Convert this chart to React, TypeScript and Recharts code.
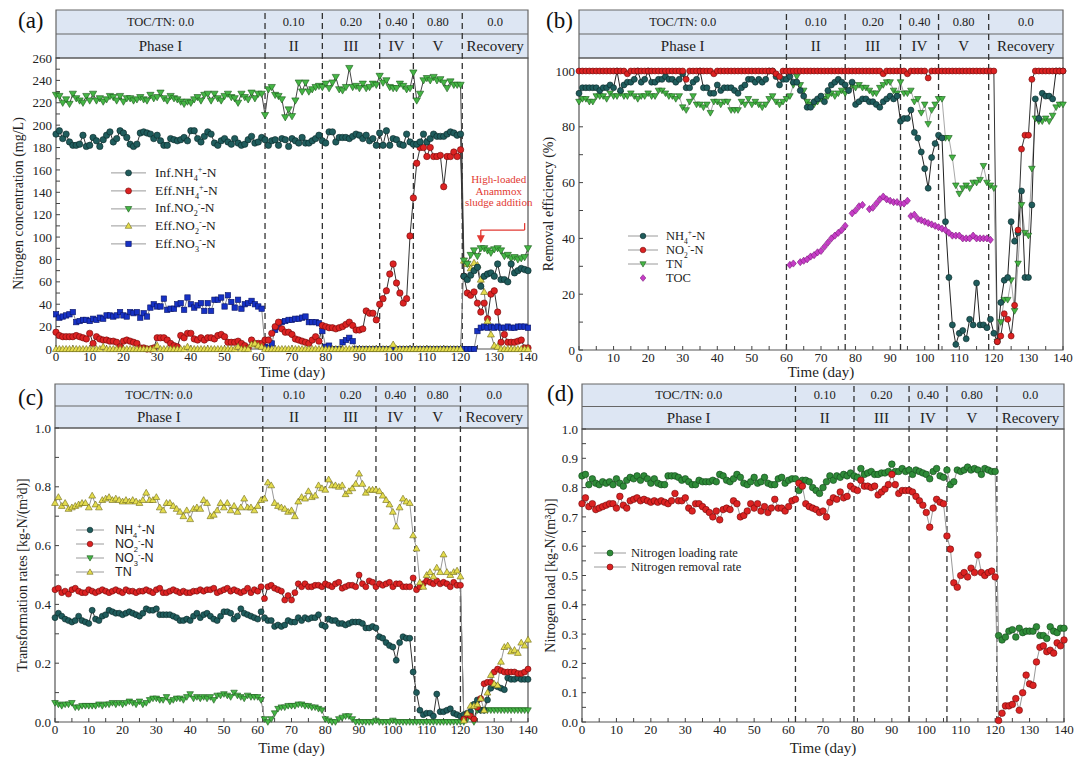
import React from "react";
import {
  ComposedChart,
  Line,
  XAxis,
  YAxis,
  ReferenceArea,
  ReferenceLine,
  ReferenceDot,
  Legend,
} from "recharts";

// ---------- data (one value per day, 0..140) ----------
const days = Array.from({ length: 141 }, (_, i) => i);
const xTicks = [0, 5, 10, 15, 20, 25, 30, 35, 40, 45, 50, 55, 60, 65, 70, 75, 80, 85, 90, 95, 100, 105, 110, 115, 120, 125, 130, 135, 140];

const tocLabels = ["TOC/TN: 0.0", "0.10", "0.20", "0.40", "0.80", "0.0"];
const phaseLabels = ["Phase I", "II", "III", "IV", "V", "Recovery"];

// phase boundaries (day) as drawn in each panel
const boundsA = [62, 79, 96, 106, 120.5];
const boundsB = [60, 77, 93, 104, 118.5];
const boundsC = [61.5, 80, 95, 106.5, 120];
const boundsD = [62, 79, 95, 106, 120.5];

// (a) nitrogen concentration, mg/L
const infNH4 = [
  192, 195, 188, 192, 185, 182, 182, 183, 191, 181,
  182, 189, 186, 181, 187, 191, 194, 185, 188, 195,
  193, 189, 183, 181, 183, 193, 194, 193, 192, 188,
  191, 186, 182, 182, 188, 187, 186, 187, 189, 186,
  195, 195, 188, 185, 190, 194, 192, 184, 182, 186,
  188, 185, 183, 188, 184, 182, 183, 187, 190, 184,
  185, 189, 187, 182, 186, 187, 182, 188, 187, 181,
  188, 186, 184, 189, 184, 184, 186, 188, 191, 186,
  184, 194, 194, 185, 189, 189, 189, 188, 190, 192,
  191, 188, 191, 186, 188, 182, 193, 182, 195, 182,
  188, 187, 183, 182, 192, 185, 183, 183, 185, 192,
  185, 188, 192, 190, 190, 190, 192, 194, 193, 191,
  192,
  65, 62, 66, 70, 73, 56, 65, 67, 68, 65,
  76, 62, 62, 60, 76, 68, 70, 72, 71, 70,
];
const effNH4 = [
  15, 12, 11, 11, 11, 11, 12, 11, 10, 9,
  14, 5, 11, 9, 8, 8, 7, 7, 6, 2,
  7, 8, 7, 6, 5, 1, 1, 0, 0, 1,
  10, 10, 10, 8, 5, 3, 2, 12, 10, 14,
  14, 9, 8, 10, 8, 10, 10, 9, 12, 13,
  11, 6, 6, 6, 7, 5, 3, 1, 8, 5,
  5, 5, 8, 8, 14, 20, 24, 18, 15, 15,
  13, 9, 8, 7, 6, 5, 8, 11, 7, 21,
  20, 19, 19, 18, 19, 20, 22, 24, 21, 17,
  17, 18, 34, 32, 32, 26, 40, 45, 52, 67,
  76, 59, 50, 41, 45, 101, 135, 166, 180, 180,
  172, 180, 172, 172, 173, 145, 172, 172, 176, 172,
  178,
  65, 50, 48, 51, 41, 33, 41, 27, 49, 52,
  33, 6, 13, 6, 6, 6, 7, 8, 1, 1,
];
const infNO2 = [
  227, 226, 220, 223, 219, 228, 224, 222, 220, 226,
  222, 228, 222, 224, 221, 223, 226, 225, 222, 226,
  221, 224, 224, 222, 223, 225, 223, 222, 227, 224,
  225, 229, 224, 222, 226, 224, 223, 221, 219, 221,
  220, 223, 225, 222, 227, 228, 222, 228, 224, 222,
  226, 228, 225, 224, 220, 228, 225, 223, 229, 224,
  228, 228, 209, 232, 234, 227, 226, 223, 207, 214,
  208, 222, 238, 230, 238, 230, 232, 234, 235, 234,
  237, 233, 238, 243, 232, 231, 234, 251, 234, 235,
  233, 237, 233, 234, 237, 236, 244, 238, 240, 234,
  233, 233, 237, 235, 232, 233, 247, 222, 228, 240,
  242, 240, 243, 240, 241, 238, 233, 239, 236, 236,
  236,
  79, 76, 84, 88, 83, 90, 90, 88, 86, 89,
  90, 88, 83, 84, 81, 82, 80, 81, 82, 90,
];
const effNO2 = [
  0, 0, 0, 0, 0, 0, 0, 0, 0, 0,
  0, 0, 0, 0, 2, 0, 0, 0, 0, 0,
  0, 0, 0, 0, 0, 0, 0, 0, 0, 0,
  3, 0, 0, 0, 0, 0, 0, 0, 0, 2,
  0, 0, 0, 0, 0, 0, 0, 0, 0, 0,
  0, 0, 0, 0, 2, 0, 0, 0, 4, 5,
  3, 2, 0, 0, 0, 0, 0, 0, 0, 0,
  0, 0, 0, 0, 0, 0, 0, 0, 0, 0,
  0, 0, 0, 0, 0, 0, 0, 0, 0, 0,
  0, 0, 0, 0, 0, 0, 0, 0, 0, 0,
  4, 0, 0, 0, 0, 0, 0, 0, 0, 0,
  0, 0, 0, 0, 0, 0, 0, 0, 0, 0,
  0,
  79, 76, 72, 77, 75, 62, 51, 25, 13, 3,
  2, 0, 0, 0, 0, 0, 0, 0, 0, 0,
];
const effNO3 = [
  31, 28, 29, 30, 31, 33, 24, 25, 26, 26,
  25, 27, 26, 28, 27, 30, 30, 29, 30, 33,
  30, 29, 33, 32, 33, 28, 32, 29, 37, 40,
  38, 38, 45, 35, 36, 36, 40, 41, 35, 46,
  40, 37, 39, 41, 34, 41, 34, 44, 44, 46,
  38, 48, 42, 37, 44, 36, 40, 41, 43, 40,
  38, 36, 2, 1, 5, 17, 20, 24, 25, 26,
  26, 27, 27, 28, 29, 24, 24, 24, 23, 16,
  2, 3, 0, 0, 0, 6, 8, 10, 7, 0,
  0, 0, 0, 0, 0, 0, 0, 0, 0, 0,
  0, 0, 0, 0, 0, 0, 0, 0, 0, 0,
  0, 0, 0, 0, 0, 0, 0, 0, 0, 0,
  0,
  0, 0, 0, 0, 16, 19, 20, 19, 20, 19,
  20, 19, 19, 20, 19, 19, 20, 20, 20, 19,
];

// (b) removal efficiency, %
const effNH4rm = [
  92, 94, 94, 94, 94, 94, 93, 94, 94, 95,
  94, 100, 93, 95, 96, 96, 97, 100, 96, 97,
  100, 96, 96, 97, 97, 98, 97, 97, 96, 97,
  99, 94, 94, 96, 97, 100, 94, 94, 92, 92,
  95, 93, 94, 94, 94, 93, 92, 94, 95, 97,
  97, 96, 97, 96, 97, 100, 100, 98, 95, 97,
  97, 98, 96, 96, 93, 91, 87, 87, 89, 90,
  91, 89, 93, 95, 96, 97, 96, 95, 93, 96,
  88, 89, 90, 90, 89, 89, 88, 87, 89, 90,
  91, 90, 91, 82, 83, 83, 86, 78, 76, 71,
  65, 58, 69, 74, 77, 76, 46, 26, 9, 2,
  6, 7, 4, 11, 9, 24, 9, 9, 8, 11,
  6,
  3, 17, 25, 26, 46, 39, 42, 57, 26, 26,
  52, 90, 83, 92, 91, 91, 90, 100, 100, 100,
];
const effNO2rm = [
  100, 100, 100, 100, 100, 100, 100, 100, 100, 100,
  100, 100, 100, 100, 99, 100, 100, 100, 100, 100,
  100, 100, 100, 100, 100, 100, 100, 100, 100, 100,
  100, 97, 100, 100, 100, 100, 100, 100, 100, 99,
  100, 100, 100, 100, 100, 100, 100, 100, 100, 100,
  100, 100, 100, 100, 100, 100, 100, 99, 98, 100,
  100, 100, 100, 100, 100, 100, 100, 100, 100, 100,
  100, 100, 100, 100, 100, 100, 100, 100, 100, 100,
  100, 100, 100, 100, 100, 100, 100, 100, 99, 100,
  100, 100, 100, 100, 100, 99, 100, 100, 100, 100,
  100, 97.5, 100, 100, 100, 100, 100, 100, 100, 100,
  100, 100, 100, 100, 100, 100, 100, 100, 100, 100,
  100,
  3, 5, 13, 11, 5, 16, 43, 72, 77, 77,
  97, 100, 100, 100, 100, 100, 100, 100, 100, 100,
];
const effTNrm = [
  89, 90, 90, 89, 89, 91, 91, 91, 90, 92,
  91, 91, 92, 91, 91, 92, 91, 90, 91, 91,
  92, 91, 91, 93, 93, 92, 91, 91, 90, 91,
  87, 86, 89, 91, 88, 88, 87, 88, 85, 89,
  89, 88, 89, 89, 86, 86, 86, 89, 88, 90,
  88, 89, 88, 87, 88, 90, 91, 89, 88, 89,
  90, 91, 95, 98, 95, 93, 89, 88, 88, 89,
  90, 90, 91, 92, 91, 92, 93, 92, 93, 95,
  94, 95, 94, 94, 93, 92, 92, 94, 95, 96,
  96, 93, 92, 96, 92, 92, 93, 89, 90, 85,
  88, 81, 86, 88, 90, 90, 76, 76, 69, 59,
  56, 58, 59, 58, 60, 60, 61, 66, 60, 59,
  58,
  3, 10, 18, 18, 25, 14, 31, 52, 42, 41,
  65, 83, 82, 82, 83, 82, 84, 87, 88, 88,
];
const effTOCrm = [
  null, null, null, null, null, null, null, null, null, null,
  null, null, null, null, null, null, null, null, null, null,
  null, null, null, null, null, null, null, null, null, null,
  null, null, null, null, null, null, null, null, null, null,
  null, null, null, null, null, null, null, null, null, null,
  null, null, null, null, null, null, null, null, null, null,
  null, 30.5, 31, null, 31.5, 32, 32.5, 33.5, 34, 35,
  35.5, 37, 38.5, 40, 41, 42, 43, 44.5, null, 49,
  50, 51.5, 52, null, 50.5, 51, 52.5, 54, 55, 54,
  53.5, 53, 53, 52.5, 52.5, 53.5, 48, 48.5, 47, 46.5,
  46, 45.5, 45, 44.5, 44, 43.5, 43, 42, 41, 41,
  41, 40, 40, 40, 41, 40, 40, 40, 40, 39.5,
  null,
  null, null, null, null, null, null, null, null, null, null,
  null, null, null, null, null, null, null, null, null, null,
];

// (c) transformation rates, kg-N/(m3 d)
const rateNH4 = [
  0.355, 0.37, 0.36, 0.35, 0.345, 0.34, 0.345, 0.36, 0.345, 0.34,
  0.335, 0.38, 0.35, 0.345, 0.36, 0.365, 0.38, 0.375, 0.37, 0.37,
  0.365, 0.37, 0.375, 0.37, 0.365, 0.36, 0.37, 0.385, 0.38, 0.38,
  0.385, 0.365, 0.365, 0.365, 0.365, 0.36, 0.355, 0.345, 0.345, 0.35,
  0.345, 0.36, 0.37, 0.355, 0.365, 0.37, 0.36, 0.35, 0.345, 0.36,
  0.375, 0.375, 0.37, 0.35, 0.36, 0.385, 0.37, 0.365, 0.36, 0.355,
  0.35, 0.375, 0.355, 0.345, 0.345, 0.325, 0.33, 0.325, 0.33, 0.345,
  0.34, 0.34, 0.355, 0.345, 0.355, 0.35, 0.355, 0.355, 0.365, 0.33,
  0.325, 0.35, 0.345, 0.345, 0.335, 0.335, 0.33, 0.335, 0.34, 0.34,
  0.34, 0.335, 0.32, 0.32, 0.325, 0.32, 0.29, 0.285, 0.27, 0.26,
  0.255, 0.21, 0.27, 0.29, 0.285, 0.285, 0.17, 0.1, 0.04, 0.025,
  0.03, 0.03, 0.02, 0.095, 0.035, 0.035, 0.04, 0.045, 0.03, 0.025,
  0.02,
  0.025, 0.03, 0.035, 0.06, 0.075, 0.04, 0.04, 0.075, 0.115, 0.125,
  0.12, 0.115, 0.11, 0.15, 0.145, 0.145, 0.15, 0.145, 0.145, 0.145,
];
const rateNO2 = [
  0.45, 0.455, 0.44, 0.445, 0.435, 0.45, 0.455, 0.445, 0.44, 0.44,
  0.45, 0.445, 0.44, 0.445, 0.45, 0.445, 0.44, 0.445, 0.45, 0.445,
  0.44, 0.45, 0.445, 0.445, 0.44, 0.445, 0.445, 0.45, 0.445, 0.44,
  0.45, 0.455, 0.44, 0.44, 0.445, 0.45, 0.445, 0.44, 0.445, 0.44,
  0.44, 0.445, 0.445, 0.45, 0.445, 0.45, 0.45, 0.455, 0.44, 0.445,
  0.45, 0.455, 0.445, 0.45, 0.445, 0.44, 0.445, 0.455, 0.44, 0.45,
  0.445, 0.46, 0.42, 0.46, 0.465, 0.455, 0.45, 0.445, 0.415, 0.43,
  0.415, 0.44, 0.47, 0.46, 0.47, 0.46, 0.46, 0.465, 0.465, 0.46,
  0.47, 0.465, 0.46, 0.47, 0.475, 0.455, 0.46, 0.465, 0.465, 0.46,
  0.5, 0.47, 0.46, 0.48, 0.475, 0.46, 0.47, 0.465, 0.47, 0.475,
  0.46, 0.47, 0.47, 0.46, 0.46, 0.46, 0.49, 0.45, 0.46, 0.47,
  0.48, 0.475, 0.47, 0.48, 0.47, 0.475, 0.47, 0.46, 0.475, 0.465,
  0.465,
  0.01, 0.025, 0.02, 0.01, 0.05, 0.08, 0.13, 0.135, 0.135, 0.17,
  0.18, 0.175, 0.17, 0.17, 0.17, 0.17, 0.165, 0.165, 0.17, 0.18,
];
const rateNO3 = [
  0.065, 0.06, 0.055, 0.06, 0.06, 0.065, 0.05, 0.05, 0.055, 0.055,
  0.055, 0.055, 0.055, 0.06, 0.055, 0.06, 0.06, 0.065, 0.06, 0.065,
  0.06, 0.065, 0.07, 0.065, 0.06, 0.07, 0.06, 0.065, 0.075, 0.08,
  0.08, 0.075, 0.075, 0.085, 0.07, 0.075, 0.08, 0.08, 0.075, 0.085,
  0.095, 0.08, 0.085, 0.08, 0.085, 0.08, 0.085, 0.075, 0.09, 0.09,
  0.095, 0.09, 0.085, 0.1, 0.09, 0.085, 0.08, 0.09, 0.085, 0.085,
  0.085, 0.075, 0.01, 0, 0.01, 0.03, 0.045, 0.05, 0.05, 0.055,
  0.055, 0.055, 0.06, 0.06, 0.055, 0.055, 0.05, 0.05, 0.045, 0.04,
  0.01, 0.005, 0, 0, 0.01, 0.015, 0.02, 0.02, 0.01, 0,
  0, 0, 0, 0, 0, 0.005, 0, 0, 0, 0,
  0.005, 0, 0, 0, 0, 0, 0, 0, 0, 0,
  0, 0, 0, 0, 0, 0, 0, 0, 0, 0,
  0,
  0, 0.01, 0.02, 0, 0.04, 0.04, 0.04, 0.04, 0.04, 0.04,
  0.04, 0.04, 0.04, 0.04, 0.04, 0.04, 0.04, 0.04, 0.04, 0.04,
];
// TN transformation rate = nitrogen removal rate, shared by (c) and (d)
const rateTN = [
  0.745, 0.765, 0.735, 0.745, 0.725, 0.73, 0.735, 0.74, 0.745, 0.745,
  0.73, 0.77, 0.74, 0.73, 0.755, 0.76, 0.765, 0.755, 0.76, 0.755,
  0.75, 0.755, 0.75, 0.755, 0.75, 0.745, 0.755, 0.78, 0.755, 0.755,
  0.765, 0.73, 0.72, 0.745, 0.745, 0.735, 0.725, 0.715, 0.7, 0.72,
  0.69, 0.725, 0.73, 0.725, 0.755, 0.745, 0.7, 0.705, 0.72, 0.745,
  0.73, 0.745, 0.72, 0.735, 0.715, 0.73, 0.76, 0.73, 0.73, 0.72,
  0.735, 0.755, 0.76, 0.815, 0.805, 0.745, 0.735, 0.73, 0.725, 0.715,
  0.72, 0.7, 0.75, 0.765, 0.76, 0.785, 0.765, 0.77, 0.805, 0.795,
  0.79, 0.825, 0.805, 0.805, 0.8, 0.805, 0.775, 0.785, 0.795, 0.81,
  0.845, 0.81, 0.78, 0.79, 0.79, 0.79, 0.785, 0.77, 0.755, 0.74,
  0.715, 0.665, 0.73, 0.76, 0.75, 0.745, 0.635, 0.59, 0.475, 0.46,
  0.5, 0.51, 0.495, 0.525, 0.51, 0.57, 0.51, 0.5, 0.51, 0.515,
  0.495,
  0.005, 0.03, 0.055, 0.055, 0.06, 0.08, 0.04, 0.1, 0.16, 0.13,
  0.125, 0.205, 0.255, 0.26, 0.24, 0.245, 0.235, 0.27, 0.26, 0.28,
];

// (d) nitrogen loading rate
const loadRate = [
  0.84, 0.845, 0.81, 0.83, 0.815, 0.81, 0.82, 0.815, 0.82, 0.81,
  0.83, 0.815, 0.805, 0.825, 0.835, 0.83, 0.84, 0.825, 0.84, 0.83,
  0.815, 0.83, 0.815, 0.81, 0.81, 0.84, 0.84, 0.84, 0.835, 0.825,
  0.83, 0.82, 0.81, 0.81, 0.825, 0.82, 0.82, 0.82, 0.825, 0.82,
  0.845, 0.84, 0.825, 0.82, 0.83, 0.845, 0.835, 0.815, 0.81, 0.82,
  0.835, 0.815, 0.82, 0.835, 0.815, 0.81, 0.81, 0.83, 0.835, 0.815,
  0.825, 0.83, 0.83, 0.79, 0.825, 0.825, 0.82, 0.8, 0.79, 0.78,
  0.8, 0.82, 0.84, 0.825, 0.84, 0.835, 0.845, 0.84, 0.85, 0.84,
  0.835, 0.865, 0.845, 0.85, 0.855, 0.845, 0.845, 0.85, 0.85, 0.855,
  0.88, 0.855, 0.855, 0.865, 0.855, 0.86, 0.845, 0.86, 0.855, 0.85,
  0.845, 0.83, 0.855, 0.865, 0.84, 0.835, 0.86, 0.81, 0.82, 0.86,
  0.855, 0.86, 0.87, 0.86, 0.865, 0.86, 0.845, 0.865, 0.86, 0.855,
  0.855,
  0.295, 0.28, 0.29, 0.31, 0.315, 0.29, 0.32, 0.305, 0.31, 0.31,
  0.31, 0.325, 0.295, 0.295, 0.285, 0.325, 0.31, 0.305, 0.32, 0.32,
];

const yTicksA = [0, 10, 20, 30, 40, 50, 60, 70, 80, 90, 100, 110, 120, 130, 140, 150, 160, 170, 180, 190, 200, 210, 220, 230, 240, 250, 260];
const yTicksB = [0, 10, 20, 30, 40, 50, 60, 70, 80, 90, 100];
const yTicksC = [0, 0.1, 0.2, 0.3, 0.4, 0.5, 0.6, 0.7, 0.8, 0.9, 1.0];
const yTicksD = [0, 0.05, 0.1, 0.15, 0.2, 0.25, 0.3, 0.35, 0.4, 0.45, 0.5, 0.55, 0.6, 0.65, 0.7, 0.75, 0.8, 0.85, 0.9, 0.95, 1.0];

// ---------- styling ----------
const SERIF = "'Liberation Serif', 'Times New Roman', serif";
const SANS = "'Liberation Sans', Arial, sans-serif";
const HEADER_FILL = "#dde6f3";
const ANNOT = "#e23a33";

const TEAL = { fill: "#1f5c5c", stroke: "#0a2626" };
const RED = { fill: "#dc2222", stroke: "#6e0a0a" };
const GREEN = { fill: "#45b545", stroke: "#1b5a1b" };
const YELLOW = { fill: "#e4dc4e", stroke: "#6f6a16" };
const BLUE = { fill: "#1631c4", stroke: "#0a1466" };
const MAGENTA = { fill: "#c63cc6", stroke: "#7a1a7a" };
const DGREEN = { fill: "#2e8b38", stroke: "#12471a" };

type Shape = "circle" | "down" | "up" | "square" | "diamond";

function Marker({ cx, cy, shape, fill, stroke, r }: any) {
  if (cx == null || cy == null || Number.isNaN(cx) || Number.isNaN(cy)) return null;
  const sw = 0.6;
  if (shape === "circle") return <circle cx={cx} cy={cy} r={r} fill={fill} stroke={stroke} strokeWidth={sw} />;
  if (shape === "square")
    return <rect x={cx - r * 0.9} y={cy - r * 0.9} width={r * 1.8} height={r * 1.8} fill={fill} stroke={stroke} strokeWidth={sw} />;
  let pts = "";
  if (shape === "down") pts = `${cx - r * 1.1},${cy - r * 0.8} ${cx + r * 1.1},${cy - r * 0.8} ${cx},${cy + r * 1.1}`;
  if (shape === "up") pts = `${cx - r * 1.1},${cy + r * 0.8} ${cx + r * 1.1},${cy + r * 0.8} ${cx},${cy - r * 1.1}`;
  if (shape === "diamond") pts = `${cx},${cy - r * 1.2} ${cx + r},${cy} ${cx},${cy + r * 1.2} ${cx - r},${cy}`;
  return <polygon points={pts} fill={fill} stroke={stroke} strokeWidth={sw} />;
}

interface Series {
  key: string;
  values: (number | null)[];
  shape: Shape;
  color: { fill: string; stroke: string };
  line: string;
  r: number;
}

interface LegendItem {
  label: React.ReactNode;
  shape: Shape;
  color: { fill: string; stroke: string };
  line: boolean;
}

interface PanelCfg {
  letter: string;
  left: number;
  top: number;
  width: number;
  height: number;
  marginTop: number;
  marginRight: number;
  yWidth: number;
  xHeight: number;
  plotPx: number;
  headerPx: number;
  ymax: number;
  yTicks: number[];
  yFmt: (v: number) => string;
  yTitle: string;
  yTitleX: number;
  xTitleOffset: number;
  bounds: number[];
  series: Series[];
  legend: { items: LegendItem[]; left: number; top: number; rowH: number; font: string; size: number; lineW: number; textX: number; r: number };
  extras?: React.ReactNode[];
}

const chem = (pre: string, sub: string, sup: string, post: string) => (
  <span>
    {pre}
    <sub style={{ fontSize: "0.6em", lineHeight: 0 }}>{sub}</sub>
    <sup style={{ fontSize: "0.6em", lineHeight: 0 }}>{sup}</sup>
    {post}
  </span>
);

const cellLabel = (text: string, size: number) => (p: any) => {
  const vb = p.viewBox;
  if (!vb) return null;
  return (
    <text x={vb.x + vb.width / 2} y={vb.y + vb.height / 2} textAnchor="middle" dominantBaseline="central" fontSize={size} fill="#222" fontFamily={SERIF}>
      {text}
    </text>
  );
};

function LegendBox({ cfg }: { cfg: PanelCfg["legend"] }) {
  return (
    <div style={{ fontFamily: cfg.font, fontSize: cfg.size, color: "#222" }}>
      {cfg.items.map((it, i) => (
        <div key={i} style={{ height: cfg.rowH, display: "flex", alignItems: "center", whiteSpace: "nowrap" }}>
          <svg width={cfg.textX} height={cfg.rowH} style={{ flex: "none" }}>
            {it.line && <line x1={0} x2={cfg.lineW} y1={cfg.rowH / 2} y2={cfg.rowH / 2} stroke="#9a9a9a" strokeWidth={1} />}
            <Marker cx={cfg.lineW / 2} cy={cfg.rowH / 2} shape={it.shape} fill={it.color.fill} stroke={it.color.stroke} r={cfg.r} />
          </svg>
          <span>{it.label}</span>
        </div>
      ))}
    </div>
  );
}

function Panel({ cfg }: { cfg: PanelCfg }) {
  const rows = days.map((d, i) => {
    const row: any = { day: d };
    cfg.series.forEach((s) => {
      row[s.key] = s.values[i];
    });
    return row;
  });
  const hdr = (cfg.ymax * cfg.headerPx) / cfg.plotPx;
  const hTop = cfg.ymax + hdr;
  const hMid = cfg.ymax + hdr / 2;
  const edges = [0, ...cfg.bounds, 140];

  return (
    <div style={{ position: "absolute", left: cfg.left, top: cfg.top }}>
      <ComposedChart width={cfg.width} height={cfg.height} data={rows} margin={{ top: cfg.marginTop, right: cfg.marginRight, bottom: 0, left: 0 }}>
        <XAxis
          dataKey="day"
          type="number"
          domain={[0, 140]}
          ticks={xTicks}
          interval={0}
          tickFormatter={(v: number) => (v % 10 === 0 ? String(v) : "")}
          tick={{ fill: "#222", fontSize: 13, fontFamily: SERIF }}
          tickSize={-4}
          tickMargin={7}
          tickLine={{ stroke: "#444" }}
          axisLine={false}
          height={cfg.xHeight}
          label={{ value: "Time (day)", position: "insideBottom", offset: cfg.xTitleOffset, fontSize: 15, fill: "#222", fontFamily: SERIF }}
        />
        <YAxis
          type="number"
          domain={[0, cfg.ymax]}
          ticks={cfg.yTicks}
          interval={0}
          tickFormatter={cfg.yFmt}
          tick={{ fill: "#222", fontSize: 13, fontFamily: SERIF }}
          tickSize={-4}
          tickMargin={8}
          tickLine={{ stroke: "#444" }}
          axisLine={false}
          width={cfg.yWidth}
          label={{ value: cfg.yTitle, angle: -90, position: "insideLeft", offset: cfg.yTitleX, fontSize: 14, fill: "#222", fontFamily: SERIF, style: { textAnchor: "middle" } }}
        />

        {/* header band: TOC/TN row and phase row */}
        {edges.slice(0, -1).map((x1, i) => (
          <ReferenceArea key={`toc${i}`} x1={x1} x2={edges[i + 1]} y1={hMid} y2={hTop} ifOverflow="visible" fill={HEADER_FILL} fillOpacity={1} stroke="none" label={cellLabel(tocLabels[i], 12.5)} />
        ))}
        {edges.slice(0, -1).map((x1, i) => (
          <ReferenceArea key={`ph${i}`} x1={x1} x2={edges[i + 1]} y1={cfg.ymax} y2={hMid} ifOverflow="visible" fill={HEADER_FILL} fillOpacity={1} stroke="none" label={cellLabel(phaseLabels[i], 15)} />
        ))}
        <ReferenceArea x1={0} x2={140} y1={cfg.ymax} y2={hTop} ifOverflow="visible" fill="none" stroke="#666" strokeWidth={1.2} />
        <ReferenceLine segment={[{ x: 0, y: hMid }, { x: 140, y: hMid }]} ifOverflow="visible" stroke="#666" strokeWidth={1.2} />
        <ReferenceArea x1={0} x2={140} y1={0} y2={cfg.ymax} ifOverflow="visible" fill="none" stroke="#555" strokeWidth={1.2} />
        {cfg.bounds.map((b) => (
          <ReferenceLine key={`b${b}`} segment={[{ x: b, y: 0 }, { x: b, y: hTop }]} ifOverflow="visible" stroke="#333" strokeWidth={1.3} strokeDasharray="6 4" />
        ))}

        {cfg.series.map((s) => (
          <Line
            key={s.key}
            dataKey={s.key}
            type="linear"
            stroke={s.line}
            strokeWidth={1}
            connectNulls={false}
            isAnimationActive={false}
            activeDot={false}
            legendType="none"
            dot={(p: any) => <Marker key={`${s.key}-${p.index}`} cx={p.cx} cy={p.cy} shape={s.shape} fill={s.color.fill} stroke={s.color.stroke} r={s.r} />}
          />
        ))}

        {cfg.extras}

        <Legend
          layout="vertical"
          align="center"
          verticalAlign="middle"
          wrapperStyle={{ left: cfg.legend.left, top: cfg.legend.top, width: "auto" }}
          content={() => <LegendBox cfg={cfg.legend} />}
        />
      </ComposedChart>
    </div>
  );
}

const fmt20 = (v: number) => (v % 20 === 0 ? String(v) : "");
const fmtC = (v: number) => (Math.round(v * 10) % 2 === 0 ? v.toFixed(1) : "");
const fmtD = (v: number) => (Math.round(v * 100) % 10 === 0 ? v.toFixed(1) : "");

// red annotation in panel (a)
const annotA = [
  <ReferenceLine key="ar1" segment={[{ x: 139, y: 112.5 }, { x: 139, y: 106.3 }]} stroke={ANNOT} strokeWidth={1.3} />,
  <ReferenceLine key="ar2" segment={[{ x: 139, y: 106.3 }, { x: 126, y: 106.3 }]} stroke={ANNOT} strokeWidth={1.3} />,
  <ReferenceLine key="ar3" segment={[{ x: 126, y: 106.3 }, { x: 126, y: 100 }]} stroke={ANNOT} strokeWidth={1.3} />,
  <ReferenceDot
    key="ar4"
    x={126}
    y={94.5}
    r={0}
    shape={(p: any) => <polygon points={`${p.cx - 4},${p.cy - 8} ${p.cx + 4},${p.cy - 8} ${p.cx},${p.cy}`} fill={ANNOT} />}
  />,
  <ReferenceDot
    key="ar5"
    x={131.3}
    y={141}
    r={0}
    shape={(p: any) => (
      <text x={p.cx} y={p.cy} textAnchor="middle" fontSize={11} fill={ANNOT} fontFamily={SERIF}>
        <tspan x={p.cx} dy={-8}>High-loaded</tspan>
        <tspan x={p.cx} dy={11.5}>Anammox</tspan>
        <tspan x={p.cx} dy={11.5}>sludge addition</tspan>
      </text>
    )}
  />,
];

const panelA: PanelCfg = {
  letter: "(a)",
  left: 0, top: 0, width: 540, height: 385,
  marginTop: 58, marginRight: 12, yWidth: 56, xHeight: 36,
  plotPx: 291, headerPx: 48,
  ymax: 260, yTicks: yTicksA, yFmt: fmt20,
  yTitle: "Nitrogen concentration (mg/L)", yTitleX: 18, xTitleOffset: 8,
  bounds: boundsA,
  series: [
    { key: "effNO3", values: effNO3, shape: "square", color: BLUE, line: "#8a8a8a", r: 3 },
    { key: "effNH4", values: effNH4, shape: "circle", color: RED, line: "#333", r: 3.2 },
    { key: "effNO2", values: effNO2, shape: "up", color: YELLOW, line: "#777", r: 3.2 },
    { key: "infNO2", values: infNO2, shape: "down", color: GREEN, line: "#444", r: 3.3 },
    { key: "infNH4", values: infNH4, shape: "circle", color: TEAL, line: "#333", r: 3.2 },
  ],
  legend: {
    left: 111, top: 164, rowH: 17.8, font: SERIF, size: 13.5, lineW: 35, textX: 44, r: 3,
    items: [
      { label: chem("Inf.NH", "4", "+", "-N"), shape: "circle", color: TEAL, line: true },
      { label: chem("Eff.NH", "4", "+", "-N"), shape: "circle", color: RED, line: true },
      { label: chem("Inf.NO", "2", "-", "-N"), shape: "down", color: GREEN, line: true },
      { label: chem("Eff.NO", "2", "-", "-N"), shape: "up", color: YELLOW, line: true },
      { label: chem("Eff.NO", "3", "-", "-N"), shape: "square", color: BLUE, line: true },
    ],
  },
  extras: annotA,
};

const panelB: PanelCfg = {
  letter: "(b)",
  left: 535, top: 0, width: 540, height: 385,
  marginTop: 58, marginRight: 12, yWidth: 44, xHeight: 35,
  plotPx: 292, headerPx: 48,
  ymax: 104.66, yTicks: yTicksB, yFmt: fmt20,
  yTitle: "Removal efficiency (%)", yTitleX: 13, xTitleOffset: 8,
  bounds: boundsB,
  series: [
    { key: "toc", values: effTOCrm, shape: "diamond", color: MAGENTA, line: "none", r: 3 },
    { key: "tn", values: effTNrm, shape: "down", color: GREEN, line: "#a8a8a8", r: 3 },
    { key: "nh4", values: effNH4rm, shape: "circle", color: TEAL, line: "#222", r: 3 },
    { key: "no2", values: effNO2rm, shape: "circle", color: RED, line: "#333", r: 3 },
  ],
  legend: {
    left: 93, top: 229, rowH: 14, font: SERIF, size: 12.5, lineW: 30, textX: 38, r: 2.8,
    items: [
      { label: chem("NH", "4", "+", "-N"), shape: "circle", color: TEAL, line: true },
      { label: chem("NO", "2", "-", "-N"), shape: "circle", color: RED, line: true },
      { label: "TN", shape: "down", color: GREEN, line: true },
      { label: "TOC", shape: "diamond", color: MAGENTA, line: false },
    ],
  },
};

const panelC: PanelCfg = {
  letter: "(c)",
  left: 0, top: 375, width: 540, height: 382,
  marginTop: 53, marginRight: 12, yWidth: 55, xHeight: 35,
  plotPx: 294, headerPx: 44,
  ymax: 1, yTicks: yTicksC, yFmt: fmtC,
  yTitle: "Transformation rates [kg-N/(m³d)]", yTitleX: 22, xTitleOffset: 4,
  bounds: boundsC,
  series: [
    { key: "no3", values: rateNO3, shape: "down", color: GREEN, line: "#8a8a8a", r: 3 },
    { key: "nh4", values: rateNH4, shape: "circle", color: TEAL, line: "#333", r: 3 },
    { key: "no2", values: rateNO2, shape: "circle", color: RED, line: "#333", r: 3 },
    { key: "tn", values: rateTN, shape: "up", color: YELLOW, line: "#999", r: 3.1 },
  ],
  legend: {
    left: 76, top: 148, rowH: 14, font: SANS, size: 12.5, lineW: 28, textX: 39, r: 2.8,
    items: [
      { label: chem("NH", "4", "+", "-N"), shape: "circle", color: TEAL, line: true },
      { label: chem("NO", "2", "-", "-N"), shape: "circle", color: RED, line: true },
      { label: chem("NO", "3", "-", "-N"), shape: "down", color: GREEN, line: true },
      { label: "TN", shape: "up", color: YELLOW, line: true },
    ],
  },
};

const panelD: PanelCfg = {
  letter: "(d)",
  left: 535, top: 375, width: 540, height: 382,
  marginTop: 54, marginRight: 11, yWidth: 47, xHeight: 35,
  plotPx: 293, headerPx: 45,
  ymax: 1, yTicks: yTicksD, yFmt: fmtD,
  yTitle: "Nitrogen load [kg-N/(m³d)]", yTitleX: 15, xTitleOffset: 4,
  bounds: boundsD,
  series: [
    { key: "load", values: loadRate, shape: "circle", color: DGREEN, line: "#999", r: 3.3 },
    { key: "removal", values: rateTN, shape: "circle", color: RED, line: "#999", r: 3.3 },
  ],
  legend: {
    left: 59, top: 171, rowH: 14, font: SERIF, size: 12.5, lineW: 32, textX: 37, r: 3,
    items: [
      { label: "Nitrogen loading rate", shape: "circle", color: DGREEN, line: true },
      { label: "Nitrogen removal rate", shape: "circle", color: RED, line: true },
    ],
  },
};

const letters = [
  { text: "(a)", left: 18, top: 9 },
  { text: "(b)", left: 546, top: 9 },
  { text: "(c)", left: 18, top: 386 },
  { text: "(d)", left: 547, top: 382 },
];

export default function App() {
  return (
    <div style={{ position: "absolute", left: 0, top: 0, width: 1075, height: 757, background: "#fff", fontFamily: SERIF, overflow: "hidden" }}>
      {[panelA, panelB, panelC, panelD].map((cfg) => (
        <Panel key={cfg.letter} cfg={cfg} />
      ))}
      {letters.map((l) => (
        <div key={l.text} style={{ position: "absolute", left: l.left, top: l.top, fontSize: 23, lineHeight: 1, color: "#111" }}>
          {l.text}
        </div>
      ))}
    </div>
  );
}
